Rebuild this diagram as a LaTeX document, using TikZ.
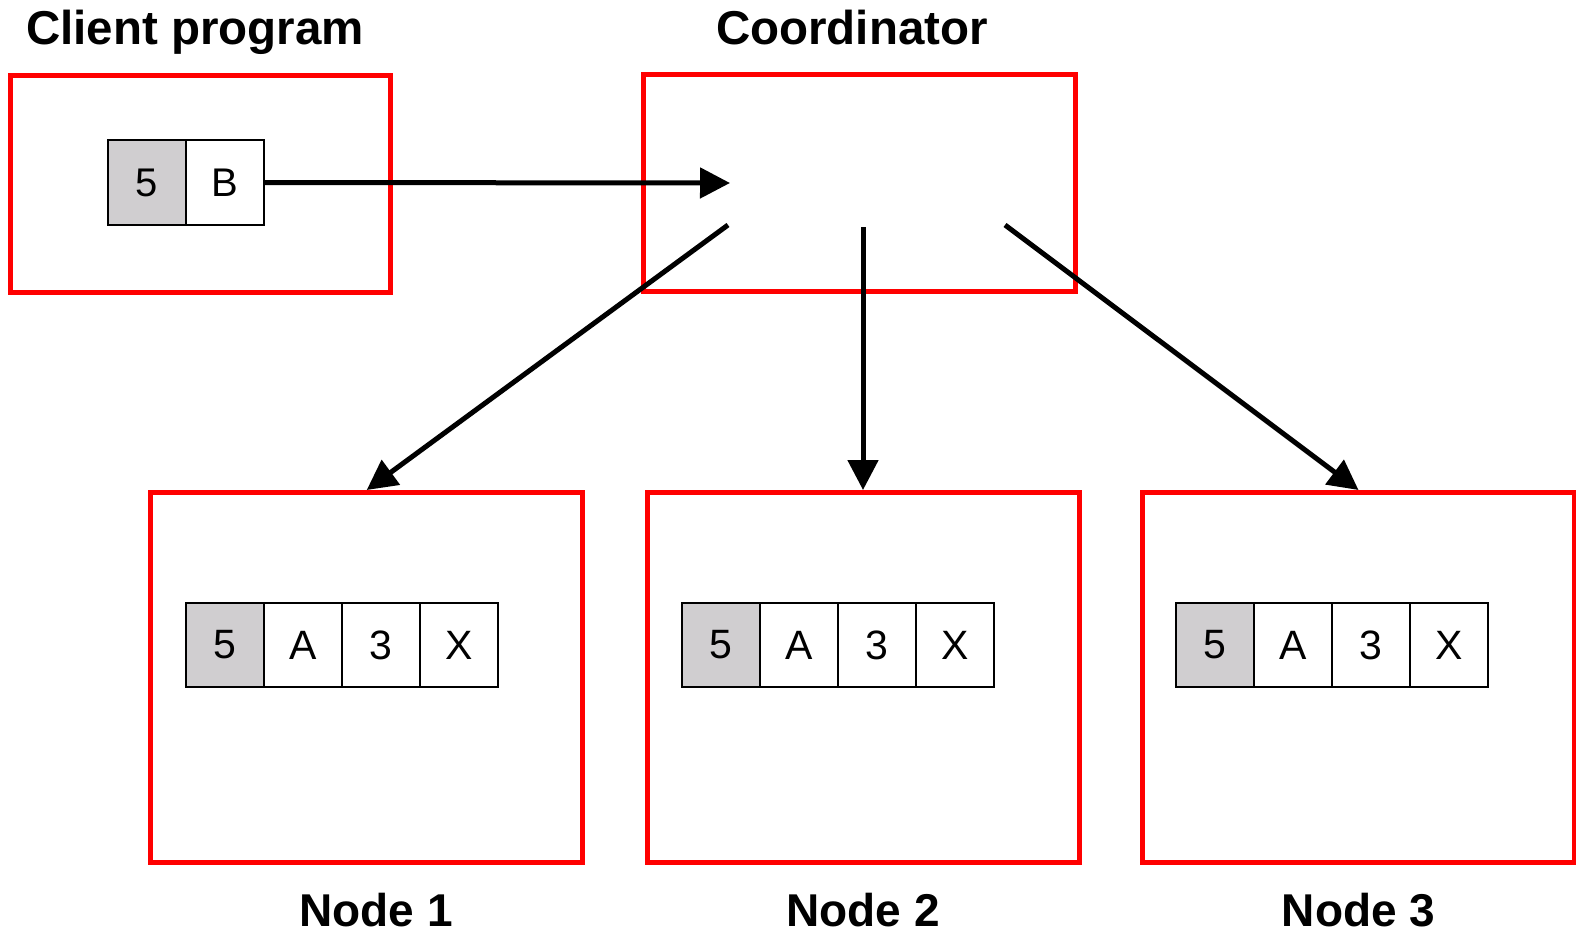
\documentclass[tikz,border=0pt]{standalone}
\usepackage{fontspec}
\setmainfont{Liberation Sans}
\usetikzlibrary{arrows.meta}
\definecolor{keygray}{RGB}{208,206,208}
\begin{document}
\begin{tikzpicture}[x=1pt,y=-1pt,
  frame/.style={draw=red, line width=5pt, inner sep=0pt, minimum width=432pt},
  nodeframe/.style={frame, minimum height=370pt},
  cell/.style={draw=black, line width=2pt, inner sep=0pt, minimum width=78pt,
    minimum height=84pt, font=\fontsize{41}{41}\selectfont},
  clientcell/.style={cell, minimum height=85pt, font=\fontsize{40}{40}\selectfont},
  keycell/.style={fill=keygray},
  title/.style={anchor=base, font=\fontsize{46}{46}\selectfont\bfseries},
  toptitle/.style={title, font=\fontsize{47.5}{47.5}\selectfont\bfseries},
  msg/.style={line width=5pt, -{Triangle[length=30pt,width=30pt]}}]
\useasboundingbox (0,0) rectangle (1576,934);

% process frames
\node[frame, minimum width=380pt, minimum height=217pt] (client) at (200.5,184) {};
\node[frame, minimum height=217pt] (coord) at (859,183.3) {};
\node[nodeframe] (node1) at (366.7,677.5) {};
\node[nodeframe] (node2) at (863,677.5) {};
\node[nodeframe] (node3) at (1358.5,677.5) {};

% titles
\node[toptitle] (tclient) at (195,45) {Client program};
\node[toptitle] (tcoord) at (852,45) {Coordinator};
\node[title] (tnode1) at (376,926.5) {Node 1};
\node[title] (tnode2) at (863,926.5) {Node 2};
\node[title] (tnode3) at (1358.5,926.5) {Node 3};

% client request: key 5, value B
\node[clientcell, keycell] (ck) at (147,182.5) {5};
\node[clientcell] (cv) at (225,182.5) {B};

% stored rows on each replica
\foreach \n/\x in {1/186, 2/682, 3/1176} {
  \node[cell, keycell] (r\n a) at (\x+39,645) {5};
  \node[cell] (r\n b) at (\x+117,645) {A};
  \node[cell] (r\n c) at (\x+195,645) {3};
  \node[cell] (r\n d) at (\x+273,645) {X};
}

% routing points inside the coordinator
\coordinate (cin) at (730,183);
\coordinate (out1) at (728,225);
\coordinate (out2) at (863,227);
\coordinate (out3) at (1005,225);

\draw[msg] (cv.east) -- (cin);
\draw[msg] (out1) -- (node1.north);
\draw[msg] (out2) -- (node2.north);
\draw[msg] (out3) -- (node3.north);
\end{tikzpicture}
\end{document}
